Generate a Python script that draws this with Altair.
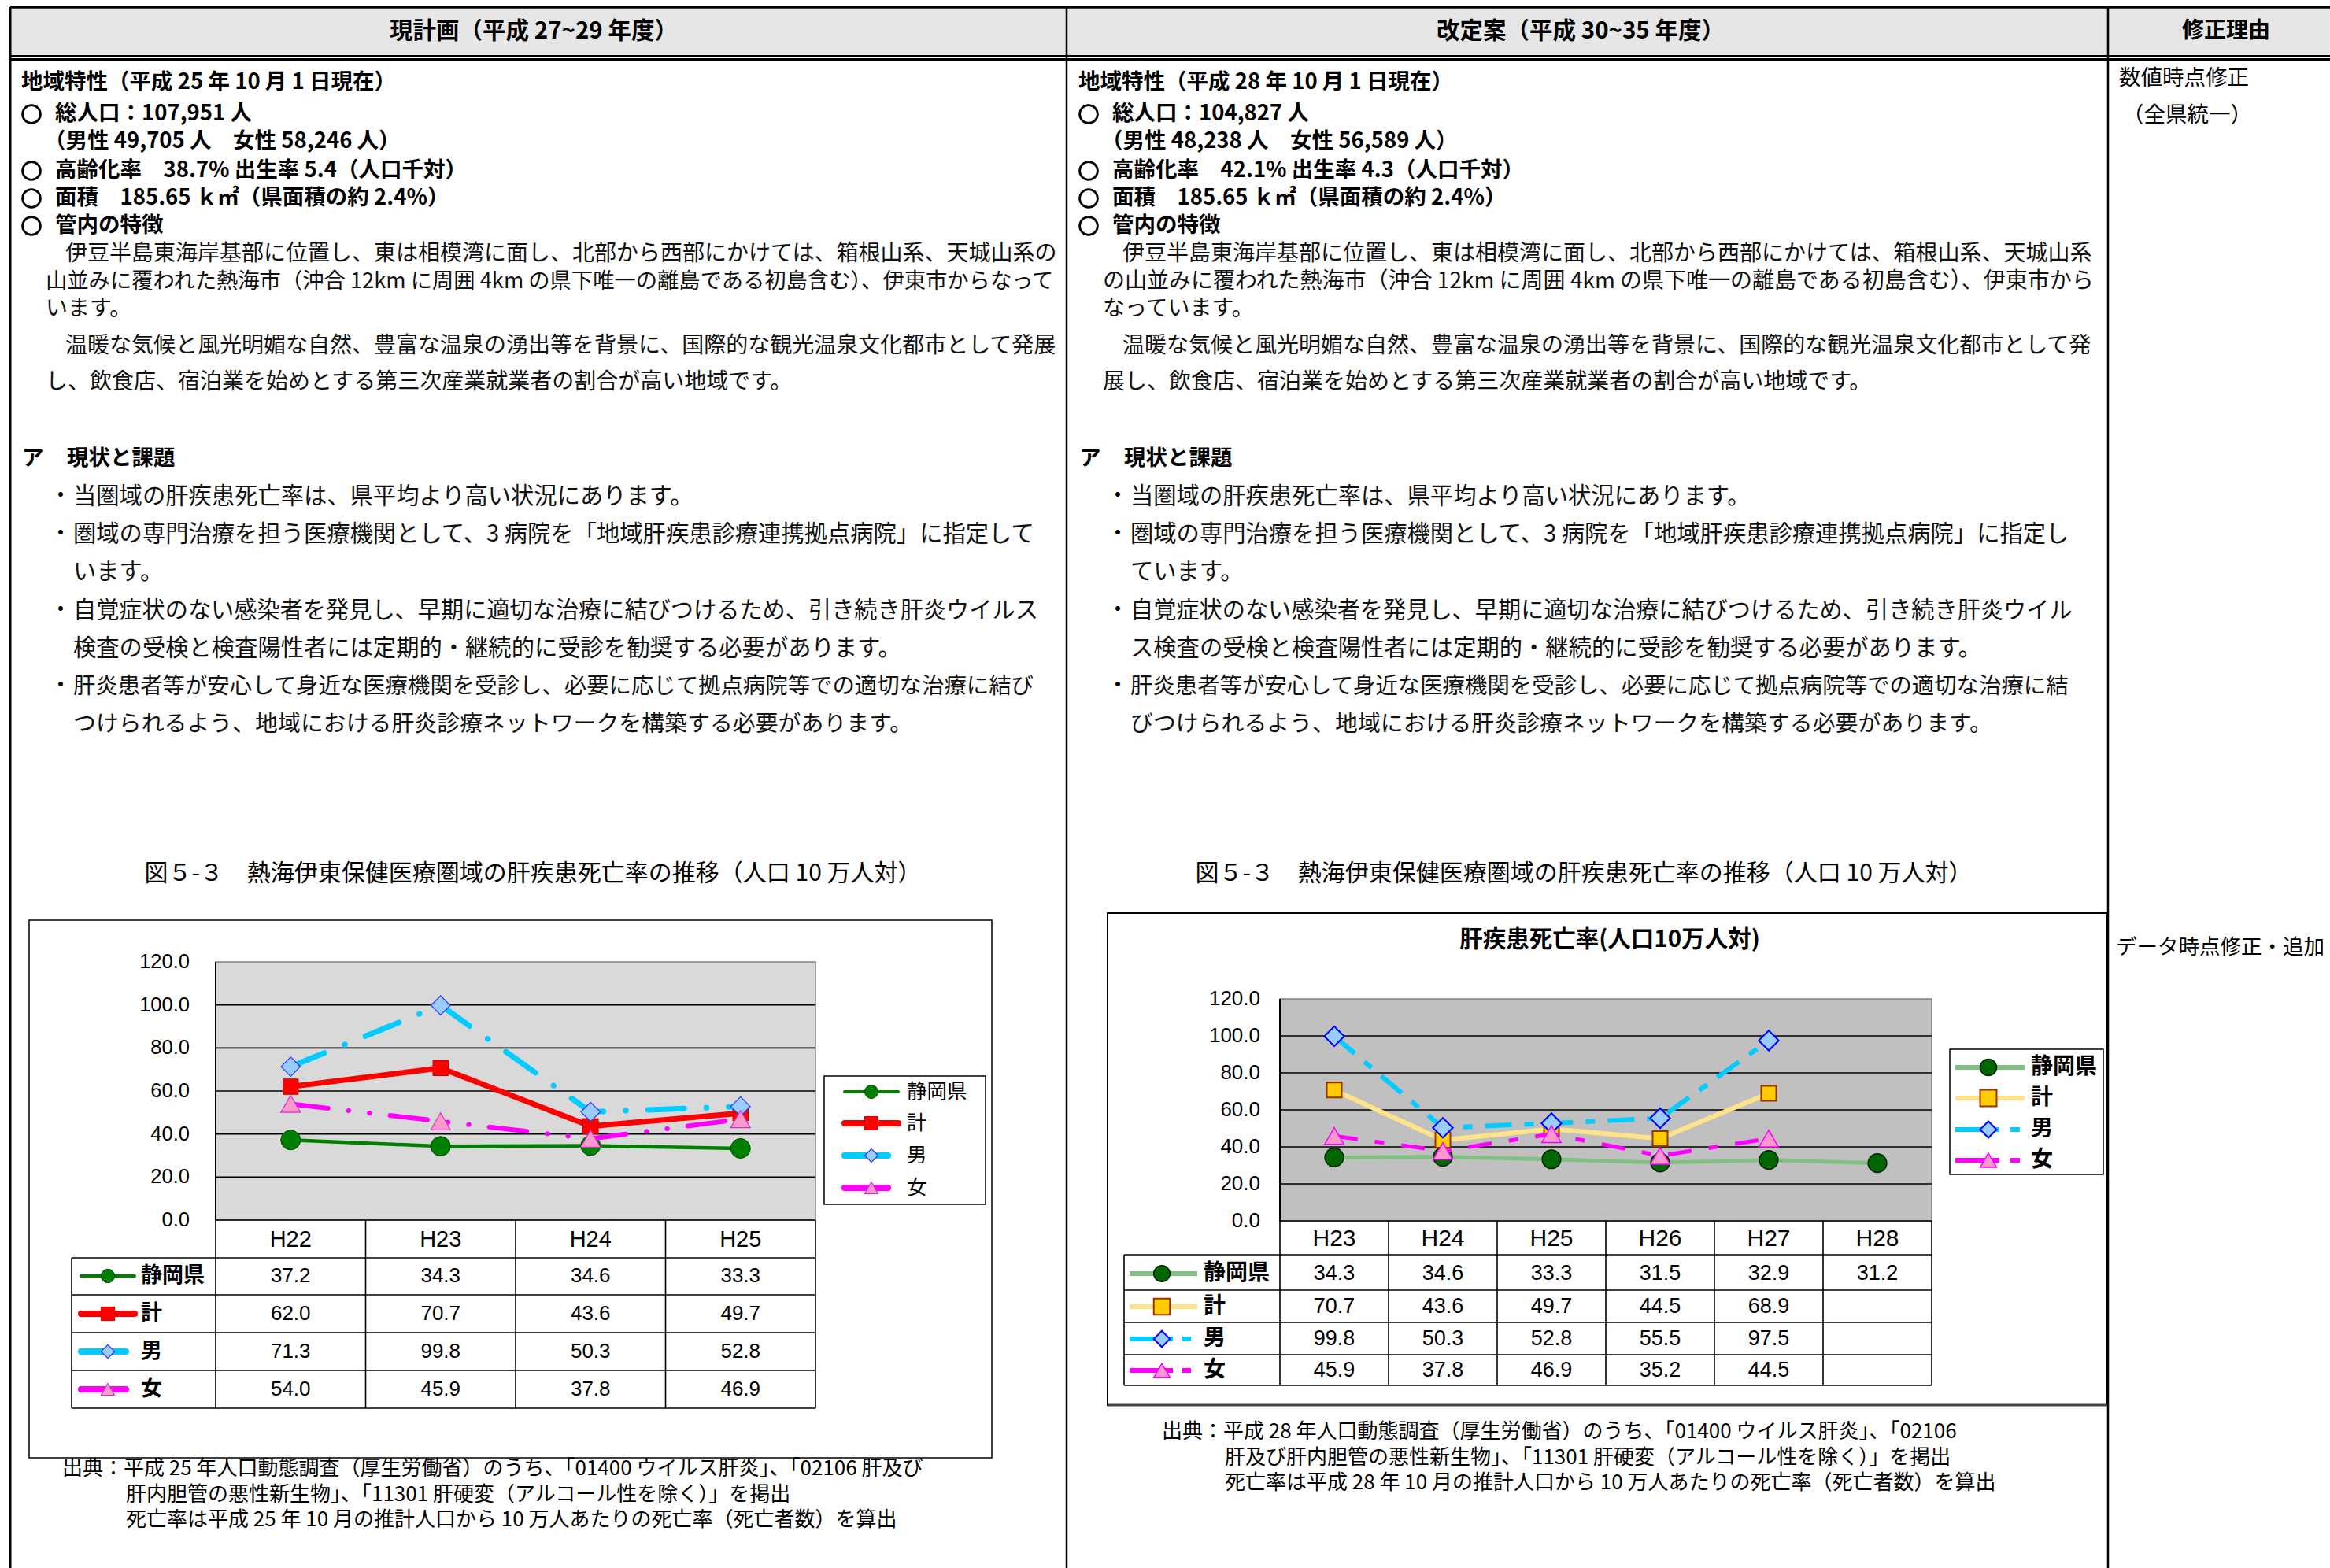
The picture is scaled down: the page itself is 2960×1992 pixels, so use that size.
import altair as alt
import pandas as pd

W, H = 2960, 1992
JP = "Noto Sans CJK JP"
LAT = "Liberation Sans"

# ---------------- chart data ----------------
series_names = ["静岡県", "計", "男", "女"]
y_ticks = [0, 20, 40, 60, 80, 100, 120]

left_years = ["H22", "H23", "H24", "H25"]
left_shizuoka = [37.2, 34.3, 34.6, 33.3]
left_total = [62.0, 70.7, 43.6, 49.7]
left_male = [71.3, 99.8, 50.3, 52.8]
left_female = [54.0, 45.9, 37.8, 46.9]

right_years = ["H23", "H24", "H25", "H26", "H27", "H28"]
right_shizuoka = [34.3, 34.6, 33.3, 31.5, 32.9, 31.2]
right_total = [70.7, 43.6, 49.7, 44.5, 68.9]
right_male = [99.8, 50.3, 52.8, 55.5, 97.5]
right_female = [45.9, 37.8, 46.9, 35.2, 44.5]

# ---------------- document text ----------------
headers = ["現計画（平成 27~29 年度）", "改定案（平成 30~35 年度）", "修正理由"]
left_info = ["地域特性（平成 25 年 10 月 1 日現在）", "総人口：107,951 人",
             "（男性 49,705 人　女性 58,246 人）", "高齢化率　38.7% 出生率 5.4（人口千対）",
             "面積　185.65 ｋ㎡（県面積の約 2.4%）", "管内の特徴"]
right_info = ["地域特性（平成 28 年 10 月 1 日現在）", "総人口：104,827 人",
              "（男性 48,238 人　女性 56,589 人）", "高齢化率　42.1% 出生率 4.3（人口千対）",
              "面積　185.65 ｋ㎡（県面積の約 2.4%）", "管内の特徴"]
left_para = ["伊豆半島東海岸基部に位置し、東は相模湾に面し、北部から西部にかけては、箱根山系、天城山系の",
             "山並みに覆われた熱海市（沖合 12km に周囲 4km の県下唯一の離島である初島含む）、伊東市からなって",
             "います。",
             "温暖な気候と風光明媚な自然、豊富な温泉の湧出等を背景に、国際的な観光温泉文化都市として発展",
             "し、飲食店、宿泊業を始めとする第三次産業就業者の割合が高い地域です。"]
right_para = ["伊豆半島東海岸基部に位置し、東は相模湾に面し、北部から西部にかけては、箱根山系、天城山系",
              "の山並みに覆われた熱海市（沖合 12km に周囲 4km の県下唯一の離島である初島含む）、伊東市から",
              "なっています。",
              "温暖な気候と風光明媚な自然、豊富な温泉の湧出等を背景に、国際的な観光温泉文化都市として発",
              "展し、飲食店、宿泊業を始めとする第三次産業就業者の割合が高い地域です。"]
section_mark = "ア"
section_title = "現状と課題"
left_bullets = ["当圏域の肝疾患死亡率は、県平均より高い状況にあります。",
                "圏域の専門治療を担う医療機関として、3 病院を「地域肝疾患診療連携拠点病院」に指定して",
                "います。",
                "自覚症状のない感染者を発見し、早期に適切な治療に結びつけるため、引き続き肝炎ウイルス",
                "検査の受検と検査陽性者には定期的・継続的に受診を勧奨する必要があります。",
                "肝炎患者等が安心して身近な医療機関を受診し、必要に応じて拠点病院等での適切な治療に結び",
                "つけられるよう、地域における肝炎診療ネットワークを構築する必要があります。"]
right_bullets = ["当圏域の肝疾患死亡率は、県平均より高い状況にあります。",
                 "圏域の専門治療を担う医療機関として、3 病院を「地域肝疾患診療連携拠点病院」に指定し",
                 "ています。",
                 "自覚症状のない感染者を発見し、早期に適切な治療に結びつけるため、引き続き肝炎ウイル",
                 "ス検査の受検と検査陽性者には定期的・継続的に受診を勧奨する必要があります。",
                 "肝炎患者等が安心して身近な医療機関を受診し、必要に応じて拠点病院等での適切な治療に結",
                 "びつけられるよう、地域における肝炎診療ネットワークを構築する必要があります。"]
bullet_starts = [True, True, False, True, False, True, False]
fig_title = "図５-３　熱海伊東保健医療圏域の肝疾患死亡率の推移（人口 10 万人対）"
inner_title = "肝疾患死亡率(人口10万人対)"
left_source = ["出典：平成 25 年人口動態調査（厚生労働省）のうち、「01400 ウイルス肝炎」、「02106 肝及び",
               "肝内胆管の悪性新生物」、「11301 肝硬変（アルコール性を除く）」を掲出",
               "死亡率は平成 25 年 10 月の推計人口から 10 万人あたりの死亡率（死亡者数）を算出"]
right_source = ["出典：平成 28 年人口動態調査（厚生労働省）のうち、「01400 ウイルス肝炎」、「02106",
                "肝及び肝内胆管の悪性新生物」、「11301 肝硬変（アルコール性を除く）」を掲出",
                "死亡率は平成 28 年 10 月の推計人口から 10 万人あたりの死亡率（死亡者数）を算出"]
reasons = ["数値時点修正", "（全県統一）", "データ時点修正・追加"]

# ---------------- helpers ----------------
DUMMY = pd.DataFrame({"k": [0]})


def T(text, x, y, size=28, weight="normal", align="left", color="#000000", font=JP):
    return alt.Chart(DUMMY).mark_text(text=text, align=align, baseline="middle", font=font,
                                      fontSize=size, fontWeight=weight, color=color).encode(
        x=alt.value(x), y=alt.value(y))


def R(x1, y1, x2, y2, color="#000000", width=2.0, dash=None, cap="butt"):
    kw = dict(color=color, strokeWidth=width, strokeCap=cap)
    if dash:
        kw["strokeDash"] = dash
    return alt.Chart(DUMMY).mark_rule(**kw).encode(
        x=alt.value(x1), y=alt.value(y1), x2=alt.value(x2), y2=alt.value(y2))


def BOX(x1, y1, x2, y2, fill="#ffffff", stroke=None, width=1.5):
    kw = dict(fill=fill)
    if stroke:
        kw.update(stroke=stroke, strokeWidth=width)
    return alt.Chart(DUMMY).mark_rect(**kw).encode(
        x=alt.value(x1), y=alt.value(y1), x2=alt.value(x2), y2=alt.value(y2))


def M(x, y, st, size):
    return alt.Chart(DUMMY).mark_point(shape=st["shape"], filled=True, fill=st["fill"], stroke=st["stroke"],
                                       strokeWidth=st["sw"], size=size, opacity=1).encode(
        x=alt.value(x), y=alt.value(y))


def RING(x, y):
    return alt.Chart(DUMMY).mark_point(shape="circle", filled=False, stroke="#000000", strokeWidth=2.8,
                                       size=520, opacity=1).encode(x=alt.value(x), y=alt.value(y))


left_styles = [
    dict(line="#008000", lw=4.5, dash=None, cap="round", shape="circle", fill="#008000", stroke="#004400", sw=1, size=620),
    dict(line="#ff0000", lw=7, dash=None, cap="round", shape="square", fill="#ff0000", stroke="#cc0000", sw=1, size=380),
    dict(line="#00ccff", lw=7, dash=[46, 28, 0.5, 28], cap="round", shape="diamond", fill="#99ccff", stroke="#3333ff", sw=1.2, size=600),
    dict(line="#ff00ff", lw=6, dash=[48, 26, 0.5, 26, 0.5, 26], cap="round", shape="triangle-up", fill="#ff99cc", stroke="#cc33cc", sw=1.2, size=620),
]
right_styles = [
    dict(line="#80c080", lw=5, dash=None, cap="butt", shape="circle", fill="#006600", stroke="#002200", sw=1.5, size=560),
    dict(line="#ffe38a", lw=6, dash=None, cap="butt", shape="square", fill="#ffcc00", stroke="#993300", sw=2, size=361),
    dict(line="#00ccff", lw=6, dash=[34, 16, 12, 16], cap="butt", shape="diamond", fill="#99ccff", stroke="#0000ff", sw=2, size=640),
    dict(line="#ff00ff", lw=5, dash=[30, 22, 12, 22], cap="butt", shape="triangle-up", fill="#ff99cc", stroke="#ff00ff", sw=1.5, size=600),
]


def chart_block(years, values, styles, g):
    n = len(years)
    xs = alt.Scale(domain=[-0.5, n - 0.5], range=[g["x0"], g["x1"]], nice=False, zero=False)
    ys = alt.Scale(domain=[0, 120], range=[g["yb"], g["yt"]], nice=False, zero=False)

    def X(f):
        return alt.X(f, scale=xs, axis=None)

    def Y(f):
        return alt.Y(f, scale=ys, axis=None)

    rows = []
    for name, vals in zip(series_names, values):
        for j, v in enumerate(vals):
            rows.append({"series": name, "idx": j, "year": years[j], "value": v, "label": f"{v:.1f}"})
    df = pd.DataFrame(rows)
    L = []
    frame = pd.DataFrame({"a": [-0.5], "b": [n - 0.5], "lo": [0], "hi": [120]})
    L.append(alt.Chart(frame).mark_rect(fill=g["bg"], stroke="#808080", strokeWidth=1.5).encode(
        x=X("a:Q"), x2="b", y=Y("lo:Q"), y2="hi"))
    grid = pd.DataFrame({"v": y_ticks[:-1], "a": [-0.5] * 6, "b": [n - 0.5] * 6})
    L.append(alt.Chart(grid).mark_rule(color="#000000", strokeWidth=1.6).encode(
        x=X("a:Q"), x2="b", y=Y("v:Q")))
    L.append(alt.Chart(frame).mark_rule(color="#000000", strokeWidth=2).encode(
        x=X("a:Q"), y=Y("lo:Q"), y2="hi"))
    bounds = pd.DataFrame({"b": [k - 0.5 for k in range(n + 1)]})
    L.append(alt.Chart(bounds).mark_rule(color="#000000", strokeWidth=1.6).encode(
        x=X("b:Q"), y=alt.value(g["yb"]), y2=alt.value(g["tb"])))
    tick_df = pd.DataFrame({"v": y_ticks, "t": [f"{t:.1f}" for t in y_ticks]})
    L.append(alt.Chart(tick_df).mark_text(align="right", baseline="middle", font=LAT,
                                          fontSize=g["yfs"], color="#000000").encode(
        x=alt.value(g["ylx"]), y=Y("v:Q"), text="t:N"))
    cat_df = pd.DataFrame({"idx": list(range(n)), "year": years})
    L.append(alt.Chart(cat_df).mark_text(align="center", baseline="middle", font=LAT,
                                         fontSize=g["cfs"], color="#000000").encode(
        x=X("idx:Q"), y=alt.value(g["caty"]), text="year:N"))
    for name, ry in zip(series_names, g["rows"]):
        L.append(alt.Chart(df).transform_filter(alt.datum.series == name).mark_text(
            align="center", baseline="middle", font=LAT, fontSize=g["vfs"], fontWeight=g["vfw"],
            color="#000000").encode(x=X("idx:Q"), y=alt.value(ry), text="label:N"))
    for name, st in zip(series_names, styles):
        kw = dict(color=st["line"], strokeWidth=st["lw"], strokeCap=st["cap"], strokeJoin="round")
        if st["dash"]:
            kw["strokeDash"] = st["dash"]
        L.append(alt.Chart(df).transform_filter(alt.datum.series == name).mark_line(**kw).encode(
            x=X("idx:Q"), y=Y("value:Q")))
        L.append(alt.Chart(df).transform_filter(alt.datum.series == name).mark_point(
            shape=st["shape"], filled=True, fill=st["fill"], stroke=st["stroke"], strokeWidth=st["sw"],
            size=st["size"], opacity=1).encode(x=X("idx:Q"), y=Y("value:Q")))
    return alt.layer(*L)


# ---------------- page layout ----------------
layout = []
# table frame
layout.append(BOX(13, 9, 2960, 71, fill="#e6e6e6"))
layout.append(R(13, 9, 2960, 9, width=3.5))
layout.append(R(13, 71, 2960, 71, width=2))
layout.append(R(13, 75.5, 2960, 75.5, width=3))
layout.append(R(13, 9, 13, 1992, width=3))
layout.append(R(1355, 9, 1355, 1992, width=2.5))
layout.append(R(2678, 9, 2678, 1992, width=2.5))
layout.append(T(headers[0], 678, 40, 29.5, "bold", "center"))
layout.append(T(headers[1], 2008, 40, 29.5, "bold", "center"))
layout.append(T(headers[2], 2828, 40, 28, "bold", "center"))

info_y = [105, 145, 180, 217, 252, 287]
para_y = [323, 358, 393, 440, 486]
para_x = [83, 58, 58, 83, 58]
bul_y = [631, 679, 727, 776, 824, 872, 920]
bul_fs = [29.3, 29.3, 29.3, 29.2, 29.3, 28.4, 28.9]
for side, (dx, info, para, bullets) in enumerate([(0, left_info, left_para, left_bullets),
                                                  (1343, right_info, right_para, right_bullets)]):
    for i, (s, y) in enumerate(zip(info, info_y)):
        if i == 0:
            layout.append(T(s, 27 + dx, y, 27.5, "bold"))
        elif i == 2:
            layout.append(T(s, 56 + dx, y, 27.5, "bold"))
        else:
            layout.append(RING(40 + dx, y))
            layout.append(T(s, 70 + dx, y, 27.5, "bold"))
    for j, (s, x, y) in enumerate(zip(para, para_x, para_y)):
        fs = 27.3 if (side == 0 and j == 1) else 28.0
        layout.append(T(s, x + dx, y, fs, "normal", color="#111111"))
    layout.append(T(section_mark, 28 + dx, 583, 27.5, "bold"))
    layout.append(T(section_title, 85 + dx, 583, 27.5, "bold"))
    for s, st, y, fs in zip(bullets, bullet_starts, bul_y, bul_fs):
        if st:
            layout.append(T("・", 77 + dx, y, 28, "normal", "center"))
        layout.append(T(s, 93 + dx, y, fs, "normal", color="#111111"))

layout.append(T(reasons[0], 2692, 100, 27.5))
layout.append(T(reasons[1], 2696, 147, 27.5))
layout.append(T(reasons[2], 2688, 1204, 26.5))

# figure titles
layout.append(T(fig_title, 677, 1110, 30, "normal", "center"))
layout.append(T(fig_title, 2012, 1110, 30, "normal", "center"))

# chart boxes
layout.append(BOX(37, 1169, 1260, 1852, fill="#ffffff", stroke="#000000", width=1.5))
layout.append(BOX(1407, 1160, 2677, 1785, fill="#ffffff", stroke="#000000", width=2))
layout.append(R(1407, 1785, 2677, 1785, color="#444444", width=3))
layout.append(T(inner_title, 2045, 1194, 29.5, "bold", "center"))

# source notes
for i, (s, y) in enumerate(zip(left_source, [1866, 1898.5, 1931])):
    layout.append(T(s, 79 if i == 0 else 160, y, 26))
for i, (s, y) in enumerate(zip(right_source, [1819, 1851.5, 1884])):
    layout.append(T(s, 1476 if i == 0 else 1556, y, 26))

# left table horizontal lines and row legend glyphs
for y in [1598, 1645, 1693, 1741, 1789]:
    layout.append(R(91, y, 1036, y, width=1.6))
layout.append(R(91, 1598, 91, 1789, width=1.6))
left_rows = [1621, 1669, 1717, 1765]
left_glyph_lw = [4, 8, 8, 8]
for name, st, y, lw in zip(series_names, left_styles, left_rows, left_glyph_lw):
    layout.append(R(103, y, 171 if name in ("静岡県", "計") else 160, y, color=st["line"], width=lw, cap="round"))
    layout.append(M(137, y, st, 300))
    layout.append(T(name, 179, y, 27, "bold"))

# left legend
layout.append(BOX(1047, 1367, 1252, 1530, fill="#ffffff", stroke="#000000", width=1.5))
for name, st, y, lw in zip(series_names, left_styles, [1387, 1427, 1468, 1509], left_glyph_lw):
    layout.append(R(1073, y, 1141 if name in ("静岡県", "計") else 1128, y, color=st["line"], width=lw, cap="round"))
    layout.append(M(1107, y, st, 290))
    layout.append(T(name, 1152, y, 25.5, "normal"))

# right table horizontal lines and row legend glyphs
for y in [1594, 1639, 1680, 1721, 1760]:
    layout.append(R(1428, y, 2454, y, width=1.6))
layout.append(R(1428, 1594, 1428, 1760, width=1.6))
right_rows = [1618, 1660, 1701, 1741]
for name, st, y in zip(series_names, right_styles, right_rows):
    if name in ("静岡県", "計"):
        layout.append(R(1435, y, 1521, y, color=st["line"], width=6))
    else:
        layout.append(R(1435, y, 1490, y, color=st["line"], width=6))
        layout.append(R(1502, y, 1513, y, color=st["line"], width=6))
    layout.append(M(1476, y, st, 420))
    layout.append(T(name, 1529, y, 28, "bold"))

# right legend
layout.append(BOX(2477, 1333, 2672, 1492, fill="#ffffff", stroke="#000000", width=1.5))
for name, st, y in zip(series_names, right_styles, [1356, 1395, 1435, 1474]):
    if name in ("静岡県", "計"):
        layout.append(R(2484, y, 2572, y, color=st["line"], width=6))
    else:
        layout.append(R(2484, y, 2540, y, color=st["line"], width=6))
        layout.append(R(2554, y, 2566, y, color=st["line"], width=6))
    layout.append(M(2526, y, st, 440))
    layout.append(T(name, 2580, y, 28, "bold"))

left_geo = dict(x0=274, x1=1036, yb=1550, yt=1222, tb=1789, bg="#d9d9d9", ylx=241, yfs=25.5,
                caty=1575, cfs=29, rows=left_rows, vfs=26, vfw="normal")
right_geo = dict(x0=1626, x1=2454, yb=1551, yt=1269, tb=1760, bg="#c0c0c0", ylx=1601, yfs=26,
                 caty=1574, cfs=30, rows=right_rows, vfs=27, vfw="normal")

left_block = chart_block(left_years, [left_shizuoka, left_total, left_male, left_female], left_styles, left_geo)
right_block = chart_block(right_years, [right_shizuoka, right_total, right_male, right_female], right_styles, right_geo)

chart = alt.layer(*layout, left_block, right_block).resolve_scale(
    x="independent", y="independent"
).properties(
    width=W, height=H, padding=0, autosize="none", background="#ffffff"
).configure_view(stroke=None)

chart.save("out.html", embed_options={"renderer": "svg", "actions": False})
